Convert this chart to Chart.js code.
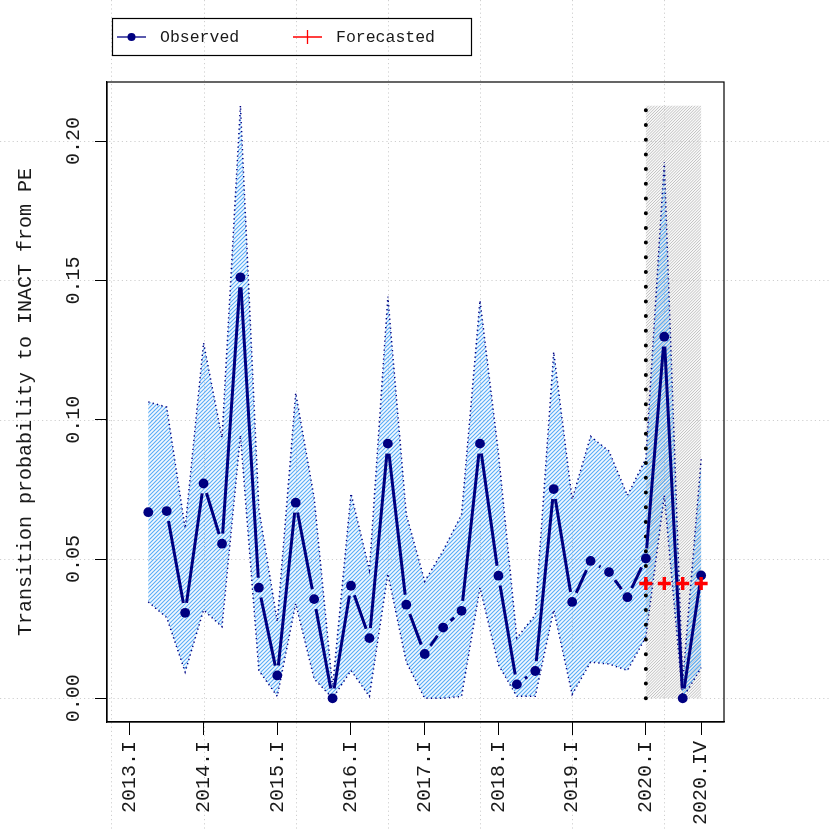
<!DOCTYPE html>
<html><head><meta charset="utf-8">
<script src="https://cdn.jsdelivr.net/npm/chart.js@4.4.0/dist/chart.umd.min.js"></script>
<style>html,body{margin:0;padding:0;background:#fff}#wrap{width:830px;height:830px;position:relative}</style>
</head><body><div id="wrap"><canvas id="c" width="830" height="830"></canvas></div>
<script>
// ---- data ----
const allQuarters = [
  '2013.I','2013.II','2013.III','2013.IV','2014.I','2014.II','2014.III','2014.IV',
  '2015.I','2015.II','2015.III','2015.IV','2016.I','2016.II','2016.III','2016.IV',
  '2017.I','2017.II','2017.III','2017.IV','2018.I','2018.II','2018.III','2018.IV',
  '2019.I','2019.II','2019.III','2019.IV','2020.I','2020.II','2020.III','2020.IV'
];
const obsQuarters = allQuarters.slice(1);
const observed = [0.0668,0.0672,0.0307,0.0771,0.0555,0.1511,0.0397,0.0082,0.0702,0.0356,0.0000,
  0.0404,0.0216,0.0914,0.0336,0.0159,0.0254,0.0314,0.0914,0.0440,0.0050,0.0098,
  0.0751,0.0346,0.0493,0.0453,0.0363,0.0502,0.1298,0.0000,0.0441];
const upperBound = [0.1064,0.1045,0.0610,0.1276,0.0935,0.2127,0.0680,0.0275,0.1096,0.0720,0.0040,
  0.0735,0.0460,0.1442,0.0660,0.0420,0.0530,0.0660,0.1428,0.0880,0.0216,0.0300,
  0.1243,0.0714,0.0940,0.0887,0.0728,0.0860,0.1925,0.0060,0.0858];
const lowerBound = [0.0346,0.0290,0.0094,0.0317,0.0257,0.0944,0.0100,0.0007,0.0340,0.0070,0.0000,
  0.0100,0.0007,0.0447,0.0130,0.0000,0.0000,0.0007,0.0397,0.0120,0.0007,0.0007,
  0.0317,0.0014,0.0130,0.0123,0.0100,0.0220,0.0728,0.0000,0.0110];
const fcQuarters = ['2020.I','2020.II','2020.III','2020.IV'];
const forecast = [0.0412,0.0412,0.0412,0.0412];
const xTickLabels = ['2013.I','2014.I','2015.I','2016.I','2017.I','2018.I','2019.I','2020.I','2020.IV'];
const yTicks = [0,0.05,0.10,0.15,0.20];
const yTickLabels = ['0.00','0.05','0.10','0.15','0.20'];
const yTitle = 'Transition probability to INACT from PE';
const legendLabels = ['Observed','Forecasted'];

const qi = q => allQuarters.indexOf(q);
const NAVY = '#000080';
const FONT = '"Liberation Mono", "DejaVu Sans Mono", monospace';

const fcStart = qi(fcQuarters[0]), fcEnd = qi(fcQuarters[fcQuarters.length-1]);
const bandTop = Math.max(...upperBound);
const obsPts = obsQuarters.map((q,i)=>({x:qi(q), y:observed[i]}));

const datasets = [
  {label:'Forecasted', data: fcQuarters.map((q,i)=>({x:qi(q), y:forecast[i]})), showLine:false, fill:false,
   borderColor:'#ff0000', backgroundColor:'#ff0000',
   pointStyle:'cross', pointRadius:6.5, pointBorderWidth:3.4, pointBorderColor:'#ff0000', order:0},
  {label:'Observed', data: obsPts, showLine:false, fill:false, borderColor:NAVY, backgroundColor:NAVY,
   pointRadius:4.9, pointBorderWidth:0, pointBackgroundColor:NAVY, order:1},
  {label:'divider', data:[{x:fcStart,y:0},{x:fcStart,y:bandTop}], borderColor:'#000', borderWidth:4,
   backgroundColor:'#000', borderCapStyle:'round', borderDash:[0,14.7], pointRadius:0, fill:false, order:3},
  {label:'upper', data: obsQuarters.map((q,i)=>({x:qi(q), y:upperBound[i]})), borderColor:NAVY,
   borderWidth:1.5, borderDash:[1.3,3.2], pointRadius:0, fill:'+1', backgroundColor:'rgba(110,180,245,0.08)', order:4},
  {label:'lower', data: obsQuarters.map((q,i)=>({x:qi(q), y:lowerBound[i]})), borderColor:NAVY,
   backgroundColor:'rgba(0,0,0,0)', borderWidth:1.5, borderDash:[1.3,3.2], pointRadius:0, fill:false, order:5},
  {label:'shade', data:[{x:fcStart,y:bandTop},{x:fcEnd,y:bandTop}], borderWidth:0, borderColor:'rgba(0,0,0,0)',
   pointRadius:0, fill:'origin', backgroundColor:'rgba(190,190,190,0.10)', order:6}
];

function hatchIn(ctx, ca, pathFn, color, step, lw){
  ctx.save(); ctx.beginPath(); pathFn(); ctx.clip();
  ctx.strokeStyle=color; ctx.lineWidth=lw; ctx.beginPath();
  for (let c = ca.left + ca.top - 2*step; c <= ca.right + ca.bottom + 2*step; c += step){
    ctx.moveTo(ca.left-5, c - ca.left + 5); ctx.lineTo(ca.right+5, c - ca.right - 5);
  }
  ctx.stroke(); ctx.restore();
}
const metaOf = (chart, lbl) => chart.getDatasetMeta(chart.data.datasets.findIndex(d=>d.label===lbl));

const rPlugin = {
  id:'rstyle',
  beforeDraw(chart){
    const {ctx, width, height} = chart; const x = chart.scales.x, y = chart.scales.y;
    ctx.save(); ctx.fillStyle='#fff'; ctx.fillRect(0,0,width,height);
    ctx.strokeStyle='#cfcfcf'; ctx.lineWidth=1; ctx.setLineDash([1.2,3]);
    yTicks.forEach(v=>{ const p=Math.round(y.getPixelForValue(v))+0.5; ctx.beginPath(); ctx.moveTo(0,p); ctx.lineTo(width,p); ctx.stroke(); });
    for (let v=-1; v<=x.max; v+=5){ const p=Math.round(x.getPixelForValue(v))+0.5; ctx.beginPath(); ctx.moveTo(p,0); ctx.lineTo(p,height); ctx.stroke(); }
    ctx.restore();
  },
  beforeDatasetsDraw(chart){
    const {ctx, chartArea:ca} = chart; const y = chart.scales.y;
    const sh = metaOf(chart,'shade').data;
    const y0 = y.getPixelForValue(0);
    hatchIn(ctx, ca, ()=>{ ctx.rect(sh[0].x, sh[0].y, sh[1].x-sh[0].x, y0-sh[0].y); }, '#b4b4b4', 2.9, 0.8);
    const up = metaOf(chart,'upper').data, lo = metaOf(chart,'lower').data;
    hatchIn(ctx, ca, ()=>{
      ctx.moveTo(up[0].x, up[0].y);
      for (let i=1;i<up.length;i++) ctx.lineTo(up[i].x, up[i].y);
      for (let i=lo.length-1;i>=0;i--) ctx.lineTo(lo[i].x, lo[i].y);
      ctx.closePath();
    }, '#58acf6', 4, 1.1);
  },
  afterDatasetDraw(chart, args){
    if (chart.data.datasets[args.index].label !== 'divider') return;
    const pts = metaOf(chart,'Observed').data;
    const ctx = chart.ctx, gap = 10;
    ctx.save(); ctx.strokeStyle=NAVY; ctx.lineWidth=3; ctx.lineCap='butt';
    for (let i=0;i<pts.length-1;i++){
      const a=pts[i], b=pts[i+1]; const dx=b.x-a.x, dy=b.y-a.y; const d=Math.hypot(dx,dy);
      if (d <= 2*gap) continue;
      const ux=dx/d, uy=dy/d;
      ctx.beginPath(); ctx.moveTo(a.x+ux*gap, a.y+uy*gap); ctx.lineTo(b.x-ux*gap, b.y-uy*gap); ctx.stroke();
    }
    ctx.restore();
  },
  afterDraw(chart){
    const {ctx, chartArea:ca} = chart; const y = chart.scales.y;
    ctx.save();
    ctx.strokeStyle='#000'; ctx.lineWidth=1.2;
    ctx.strokeRect(ca.left, ca.top, ca.right-ca.left, ca.bottom-ca.top);
    ctx.fillStyle='#1a1a1a'; ctx.font='20px '+FONT; ctx.textAlign='center'; ctx.textBaseline='middle';
    yTicks.forEach((v,i)=>{ ctx.save(); ctx.translate(ca.left-33, y.getPixelForValue(v)); ctx.rotate(-Math.PI/2); ctx.fillText(yTickLabels[i],0,0); ctx.restore(); });
    ctx.lineWidth=1.2; ctx.strokeStyle='#000';
    ctx.strokeRect(112.5, 18.5, 359, 37);
    const ly = 37;
    ctx.strokeStyle=NAVY; ctx.lineWidth=1.3; ctx.beginPath(); ctx.moveTo(117,ly); ctx.lineTo(146,ly); ctx.stroke();
    ctx.fillStyle=NAVY; ctx.beginPath(); ctx.arc(131.5,ly,4,0,Math.PI*2); ctx.fill();
    ctx.strokeStyle='#ff0000'; ctx.beginPath(); ctx.moveTo(293,ly); ctx.lineTo(322,ly); ctx.moveTo(307.5,ly-7); ctx.lineTo(307.5,ly+7); ctx.stroke();
    ctx.fillStyle='#1a1a1a'; ctx.font='16.5px '+FONT; ctx.textAlign='left'; ctx.textBaseline='middle';
    ctx.fillText(legendLabels[0], 160, ly+1); ctx.fillText(legendLabels[1], 336, ly+1);
    ctx.restore();
  }
};

new Chart(document.getElementById('c'), {
  type:'line',
  data:{datasets},
  options:{
    responsive:false, animation:false, events:[],
    layout:{padding:{top:82, right:106, left:0, bottom:0}},
    plugins:{legend:{display:false}, tooltip:{enabled:false}, colors:{enabled:false},
      filler:{drawTime:'beforeDatasetsDraw'}},
    scales:{
      x:{type:'linear', min:-1.24, max:32.24,
        afterBuildTicks:s=>{ s.ticks = xTickLabels.map(l=>({value:qi(l)})); },
        afterFit:s=>{ s.height = 108; },
        ticks:{autoSkip:false, minRotation:90, maxRotation:90, padding:6, color:'#1a1a1a',
          font:{family:FONT, size:20}, callback:(v)=>allQuarters[v]},
        grid:{drawOnChartArea:false, drawTicks:true, tickLength:13, color:'#000', lineWidth:1},
        border:{display:true, color:'#000', width:1.2}},
      y:{type:'linear', min:-0.0085, max:0.2212,
        afterBuildTicks:s=>{ s.ticks = yTicks.map(v=>({value:v})); },
        afterFit:s=>{ s.width = 107; },
        ticks:{display:false},
        grid:{drawOnChartArea:false, drawTicks:true, tickLength:12, color:'#000', lineWidth:1},
        border:{display:true, color:'#000', width:1.2},
        title:{display:true, text:yTitle, color:'#1a1a1a', font:{family:FONT, size:20}, padding:{top:14, bottom:0}}}
    }
  },
  plugins:[rPlugin]
});
</script></body></html>
